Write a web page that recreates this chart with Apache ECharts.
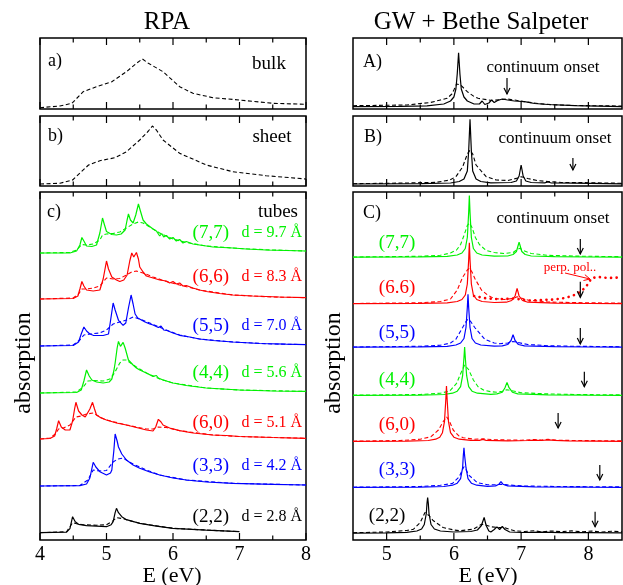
<!DOCTYPE html>
<html><head><meta charset="utf-8">
<script src="https://cdn.jsdelivr.net/npm/echarts@6/dist/echarts.min.js"></script>
<style>html,body{margin:0;padding:0;background:#fff}#c{width:623px;height:585px}</style>
</head><body><div id="c"></div>
<script>
// ---------------- DATA (E in eV, absorption in arbitrary units) ----------------
const leftTicks = [4, 5, 6, 7, 8];
const rightTicks = [5, 6, 7, 8];
const leftMinor = [4.5, 5.5, 6.5, 7.5];
const rightMinor = [5.5, 6.5, 7.5];
const tubeNames = ['(7,7)', '(6,6)', '(5,5)', '(4,4)', '(6,0)', '(3,3)', '(2,2)'];
const tubeNamesGW = ['(7,7)', '(6.6)', '(5,5)', '(4,4)', '(6,0)', '(3,3)', '(2,2)'];
const diameters = ['9.7', '8.3', '7.0', '5.6', '5.1', '4.2', '2.8'];

// RPA bulk / sheet
const bulkRPA = [[4.0,1.3],[4.3,3],[4.48,5.7],[4.65,17.3],[4.85,22.3],[5.08,27.3],[5.3,37.3],[5.45,45.7],[5.54,50],[5.63,45.7],[5.85,37.3],[6.1,22.3],[6.3,15.7],[6.6,11.3],[7.0,9],[7.5,5.7],[8.0,4.7]];
const sheetRPA = [[4.0,2],[4.3,2.7],[4.49,6],[4.73,21],[4.9,25.3],[5.13,28.3],[5.3,34.3],[5.5,46],[5.63,55],[5.69,60],[5.75,56],[5.85,46],[6.1,32.7],[6.5,21],[6.9,14.3],[7.4,10.3],[8.0,7]];

// RPA tubes: values relative to each tube's baseline
const rpaOffsets = [287, 241, 194, 147, 101, 54, 7.3];
const rpa77 = [[4.0,0],[4.45,0],[4.55,2],[4.6,8],[4.63,15.5],[4.66,12],[4.7,7],[4.78,6.5],[4.85,8],[4.9,20],[4.94,35],[4.97,28],[5.0,21.5],[5.08,18.5],[5.15,18],[5.22,19],[5.28,23],[5.31,33],[5.33,39],[5.36,33],[5.4,30],[5.44,38],[5.48,49],[5.51,42],[5.55,33],[5.6,29],[5.65,26.5],[5.7,24],[5.75,22],[5.8,17],[5.83,19.5],[5.86,16],[5.9,17.5],[5.95,14],[6.0,15.5],[6.05,12],[6.1,13.5],[6.15,10],[6.2,11.5],[6.3,9],[6.4,8],[6.5,7],[6.6,6],[6.75,5.5],[6.9,5],[7.1,4],[7.4,3],[7.7,2.5],[8.0,2]];
const rpa77d = [[4.0,0],[4.45,0.5],[4.55,3],[4.63,8.5],[4.7,8],[4.8,9],[4.9,13],[4.94,18],[5.0,19],[5.1,19.5],[5.2,21],[5.3,25],[5.4,29],[5.48,31],[5.55,30],[5.65,26],[5.8,20],[6.0,14],[6.2,10.5],[6.5,7],[7.0,4.5],[7.5,3],[8.0,2]];
const rpa66 = [[4.0,0],[4.5,0.5],[4.57,3],[4.6,10],[4.63,17.5],[4.66,13],[4.7,9],[4.8,8],[4.9,9],[4.95,20],[5.0,38],[5.03,30],[5.08,22],[5.15,19],[5.2,17.5],[5.26,19],[5.31,24],[5.35,38],[5.38,46],[5.41,42],[5.45,46.5],[5.48,40],[5.5,32],[5.55,27],[5.6,23],[5.7,21],[5.8,19],[5.9,18],[5.95,16],[6.0,17.5],[6.05,15],[6.1,16],[6.15,13],[6.2,13.5],[6.3,11],[6.4,9],[6.5,7.5],[6.7,5.5],[6.9,4],[7.2,3],[7.6,2],[8.0,1.3]];
const rpa66d = [[4.0,0],[4.5,1],[4.58,5],[4.63,10],[4.7,10],[4.8,11],[4.9,13],[5.0,21],[5.1,20],[5.2,20.5],[5.3,24],[5.38,27],[5.45,28],[5.55,26],[5.7,22],[5.9,17.5],[6.1,14],[6.4,9],[6.9,4],[7.5,2],[8.0,1.3]];
const rpa55 = [[4.0,0],[4.5,0.5],[4.58,4],[4.62,12],[4.66,19],[4.7,15],[4.75,12],[4.8,10.7],[4.95,10.5],[5.03,12],[5.06,25],[5.1,43],[5.13,36],[5.18,25.7],[5.25,20.7],[5.29,23],[5.33,38],[5.37,51],[5.4,42],[5.43,32],[5.47,28],[5.5,27],[5.58,24],[5.65,22],[5.7,21],[5.78,18.5],[5.82,20],[5.86,16],[5.9,15.7],[6.0,13],[6.1,10.7],[6.25,9],[6.4,7],[6.6,5.5],[6.9,4],[7.3,2.5],[7.7,1.8],[8.0,1.4]];
const rpa55d = [[4.0,0],[4.5,1],[4.6,6],[4.66,11],[4.75,12],[4.9,13],[5.0,16],[5.1,22],[5.2,24],[5.3,26],[5.4,29],[5.5,27],[5.65,23],[5.9,16],[6.1,11],[6.4,7],[6.9,4],[7.5,2],[8.0,1.4]];
const rpa44 = [[4.0,0],[4.55,0.5],[4.62,3],[4.66,12],[4.7,23],[4.74,17],[4.78,13],[4.85,11],[4.95,10],[5.04,11],[5.08,14],[5.11,22],[5.13,30],[5.16,45],[5.18,51.6],[5.21,46.6],[5.25,50.6],[5.28,45],[5.33,33],[5.4,28],[5.45,25],[5.5,23],[5.6,20],[5.7,16.6],[5.75,17.5],[5.78,15],[5.85,13],[6.0,10],[6.2,7.5],[6.5,5],[7.0,3],[7.5,2],[8.0,1.6]];
const rpa44d = [[4.0,0],[4.55,1],[4.65,6],[4.72,12],[4.8,12.5],[4.95,12],[5.05,14],[5.12,20],[5.2,30],[5.25,33],[5.3,33],[5.38,29],[5.45,26],[5.6,20],[5.8,14],[6.0,10],[6.5,5],[7.0,3],[8.0,1.6]];
const rpa60 = [[4.0,0],[4.15,0.5],[4.22,3],[4.25,10],[4.28,18.3],[4.32,12],[4.38,9],[4.45,9],[4.49,18],[4.52,30],[4.54,36.7],[4.58,28],[4.63,24],[4.68,22],[4.71,22.3],[4.75,30],[4.79,36.7],[4.82,30],[4.85,24],[4.92,21],[5.0,19],[5.15,16],[5.3,14],[5.45,11.5],[5.6,9],[5.7,8],[5.74,12],[5.78,19.7],[5.82,17],[5.85,14],[5.95,11],[6.1,8.3],[6.3,6],[6.6,4],[6.8,3.5],[6.82,2.5],[7.0,2.5],[7.5,1.5],[8.0,0.7]];
const rpa60d = [[4.0,0],[4.15,1],[4.23,5],[4.28,10],[4.35,11],[4.45,14],[4.54,22],[4.62,23],[4.7,25],[4.8,26],[4.9,22],[5.0,19],[5.3,14],[5.6,10],[5.7,10],[5.78,12],[5.9,11.5],[6.1,8.3],[6.6,4],[7.0,2.5],[8.0,0.7]];
const rpa33 = [[4.0,0],[4.6,0.3],[4.7,2],[4.75,8],[4.8,23.7],[4.84,19],[4.9,14.3],[5.0,11],[5.06,13],[5.08,16],[5.11,35],[5.13,52],[5.16,45],[5.18,39],[5.23,32],[5.3,26],[5.4,21],[5.5,17.7],[5.65,14],[5.8,11],[6.0,8],[6.2,6],[6.5,4],[6.9,2.7],[7.5,1.7],[8.0,1]];
const rpa33d = [[4.0,0],[4.6,0.5],[4.72,6],[4.8,16],[4.9,15],[5.0,15.5],[5.1,24],[5.17,27],[5.25,28],[5.32,25],[5.4,22],[5.6,16],[5.8,11],[6.2,6],[6.9,2.7],[8.0,1]];
const rpa22 = [[4.0,0],[4.4,0.5],[4.45,4],[4.49,16],[4.53,11],[4.58,8.4],[4.7,7],[4.85,6.5],[5.0,6],[5.07,8],[5.1,11],[5.13,20],[5.15,24.4],[5.18,20],[5.23,16],[5.3,13],[5.5,9.4],[5.75,6.5],[6.0,4.4],[6.5,2.5],[7.0,1]];
const rpa22d = [[4.0,0],[4.4,1],[4.49,10],[4.55,9],[4.65,8],[4.85,7.5],[5.0,8],[5.1,12],[5.15,15],[5.25,14],[5.3,13],[5.5,9.4],[6.0,4.4],[7.0,1]];

// GW + BSE bulk / sheet
const bulkBS = [[4.5,2.3],[5.2,2.6],[5.6,3.2],[5.85,5],[5.95,8],[6.0,12],[6.03,20],[6.05,35],[6.07,56.3],[6.09,35],[6.11,20],[6.15,12],[6.2,8],[6.3,5],[6.38,5],[6.42,8],[6.46,4.5],[6.52,6],[6.56,9],[6.6,6.5],[6.65,8.5],[6.72,10],[6.8,9],[6.9,8],[7.05,7.3],[7.2,5.5],[7.4,4.5],[7.8,3.3],[8.5,2.3]];
const bulkGW = [[4.5,3.3],[5.3,4],[5.65,6.5],[5.8,9],[5.9,10.7],[5.97,15],[6.0,19],[6.04,25],[6.06,26.3],[6.1,24],[6.2,17.3],[6.3,12.5],[6.36,10.7],[6.56,8.5],[6.7,9.5],[6.8,10],[6.9,9],[7.05,7.3],[7.25,5.5],[7.45,4.3],[7.8,3.5],[8.5,3]];
const sheetBS = [[4.5,2],[5.5,2.3],[5.95,3],[6.08,4.5],[6.15,7],[6.2,15],[6.22,35],[6.24,66.7],[6.26,35],[6.28,15],[6.33,7],[6.4,4.5],[6.55,3.2],[6.85,3.5],[6.93,5],[6.97,10],[7.0,21],[7.03,10],[7.07,5],[7.15,3.5],[7.35,3.2],[7.4,4],[7.45,3],[7.8,2.8],[8.5,2.2]];
const sheetGW = [[4.5,2.3],[5.3,3],[5.74,3.7],[5.94,6],[6.03,9.3],[6.13,19],[6.2,32],[6.24,36],[6.28,32],[6.33,21],[6.48,9.3],[6.63,6],[6.8,5.5],[6.95,8],[7.0,9.3],[7.1,7.5],[7.25,5.3],[7.4,4.5],[7.6,3.5],[8.0,3.3],[8.5,2.7]];

// GW + BSE tubes (relative to baselines)
const bsOffsets = [282.5, 236, 192.5, 144.3, 98.3, 52.3, 6.5];
const bs77 = [[4.5,0.3],[5.5,0.6],[5.9,1.2],[6.05,2.5],[6.12,4.5],[6.17,9],[6.2,20],[6.22,45],[6.23,62],[6.24,45],[6.26,20],[6.29,9],[6.34,4.5],[6.42,2.5],[6.6,1.3],[6.8,1.5],[6.88,3],[6.93,6],[6.96,13],[6.97,15.3],[6.98,13],[7.01,6],[7.06,3],[7.15,1.5],[7.5,0.8],[8.0,0.5],[8.5,0.4]];
const bs77d = [[4.5,0.5],[5.5,1.2],[5.8,2.2],[5.95,4.5],[6.04,7.5],[6.1,13],[6.15,22],[6.2,32],[6.23,34.6],[6.27,30],[6.32,20],[6.38,13],[6.48,7],[6.6,5],[6.75,4],[6.88,5],[6.94,8],[6.98,9.3],[7.03,7],[7.15,4],[7.4,2.2],[7.8,1.4],[8.5,0.8]];
const bs66 = [[4.5,0.3],[5.5,0.6],[5.9,1.2],[6.05,2.5],[6.12,4.5],[6.17,9],[6.2,20],[6.22,44],[6.23,61.3],[6.24,44],[6.26,20],[6.29,9],[6.34,4.5],[6.42,2.5],[6.6,1.5],[6.78,1.8],[6.86,3.5],[6.91,8],[6.94,15.7],[6.97,8],[7.02,3.5],[7.1,1.8],[7.5,0.8],[8.0,0.5],[8.5,0.4]];
const bs66d = [[4.5,0.5],[5.5,1.2],[5.8,2.5],[5.95,5],[6.05,14],[6.13,26.7],[6.2,34],[6.23,35.7],[6.27,32],[6.31,25.7],[6.41,14],[6.5,9],[6.59,5.7],[6.75,4.5],[6.88,5.5],[6.94,7.3],[7.0,6],[7.1,4],[7.4,2],[7.8,1.4],[8.5,0.8]];
const bs66perp = [[6.3,8],[6.45,6],[6.6,5],[6.75,5],[6.9,5.5],[7.1,3.5],[7.3,4],[7.5,4.5],[7.65,6],[7.77,8.3],[7.87,11.7],[7.96,16.7],[8.05,26],[8.15,27],[8.3,26],[8.45,26.5],[8.5,26]];
const bs55 = [[4.5,0.3],[5.5,0.6],[5.9,1.2],[6.03,2.5],[6.1,4.5],[6.15,9],[6.18,20],[6.2,40],[6.21,53.3],[6.22,40],[6.24,20],[6.27,9],[6.32,4.5],[6.4,2.5],[6.6,1.4],[6.72,1.6],[6.8,3],[6.85,7],[6.88,12.7],[6.91,7],[6.96,3],[7.05,1.6],[7.5,0.8],[8.0,0.5],[8.5,0.4]];
const bs55d = [[4.5,0.5],[5.5,1.2],[5.8,2.3],[5.95,4.5],[6.03,8.3],[6.13,20],[6.18,26],[6.21,28.3],[6.25,26],[6.31,20],[6.46,8.3],[6.6,4.5],[6.68,3.8],[6.8,4.5],[6.88,6],[6.95,5],[7.1,3],[7.4,1.8],[7.8,1.2],[8.5,0.8]];
const bs44 = [[4.5,0.3],[5.5,0.6],[5.85,1.2],[5.98,2.5],[6.05,4.5],[6.1,9],[6.13,20],[6.15,38],[6.16,48.7],[6.17,38],[6.19,20],[6.22,9],[6.27,4.5],[6.35,2.5],[6.55,1.4],[6.64,1.8],[6.72,3.5],[6.76,8],[6.79,13.3],[6.82,8],[6.87,3.5],[6.95,1.8],[7.4,0.8],[8.0,0.5],[8.5,0.4]];
const bs44d = [[4.5,0.5],[5.5,1.2],[5.8,2.5],[5.94,4.7],[6.04,12.3],[6.1,22],[6.16,30.7],[6.22,26],[6.29,15.7],[6.36,9],[6.44,5.7],[6.55,4],[6.64,3.5],[6.72,4.5],[6.79,6],[6.86,5],[7.0,3],[7.4,1.8],[7.8,1.2],[8.5,0.8]];
const bs60 = [[4.5,0.3],[5.3,0.6],[5.62,1.2],[5.73,2.5],[5.79,4.5],[5.83,9],[5.86,20],[5.88,42],[5.89,55.7],[5.9,42],[5.92,20],[5.95,9],[6.0,4.5],[6.08,2.5],[6.25,1.3],[6.38,1.3],[6.43,2.3],[6.48,1.3],[6.8,0.8],[7.1,1.2],[7.2,1.6],[7.3,1.2],[7.4,1.8],[7.5,1.3],[7.7,0.8],[8.5,0.4]];
const bs60d = [[4.5,0.5],[5.2,1.2],[5.5,2.5],[5.66,5],[5.77,11.7],[5.84,20],[5.89,25],[5.93,21],[5.99,11.7],[6.07,6],[6.14,4],[6.3,2.5],[6.44,2.8],[6.6,2],[7.0,1.5],[7.2,2.2],[7.3,1.6],[7.4,2.4],[7.55,1.5],[7.8,1.2],[8.5,0.8]];
const bs33 = [[4.5,0.3],[5.5,0.6],[5.85,1.2],[5.98,2.5],[6.05,4.5],[6.1,9],[6.13,20],[6.14,32],[6.15,40],[6.16,32],[6.18,20],[6.21,9],[6.26,4.5],[6.34,2.5],[6.5,1.4],[6.62,1.8],[6.67,3.5],[6.7,6],[6.73,3.5],[6.8,1.8],[7.2,0.9],[8.0,0.5],[8.5,0.4]];
const bs33d = [[4.5,0.5],[5.5,1.2],[5.8,2.4],[5.98,4.3],[6.08,11],[6.12,17],[6.15,21],[6.19,17],[6.22,12.7],[6.35,5],[6.5,3],[6.62,3],[6.7,3.5],[6.8,2.8],[7.0,1.8],[7.5,1.2],[8.5,0.8]];
const bs22 = [[4.5,0.3],[5.0,0.6],[5.3,1.2],[5.45,2.5],[5.52,4.5],[5.56,9],[5.59,20],[5.6,30],[5.61,36],[5.62,30],[5.63,20],[5.66,9],[5.71,4.5],[5.8,2.5],[6.0,1.5],[6.25,2],[6.35,3.5],[6.41,8],[6.45,16],[6.48,8],[6.52,2.5],[6.55,1.5],[6.6,4],[6.64,6.7],[6.68,4],[6.72,7],[6.76,4],[6.83,1.5],[7.0,1],[7.3,1.3],[7.6,0.8],[8.0,0.8],[8.5,0.6]];
const bs22d = [[4.5,0.8],[5.0,1.5],[5.3,3],[5.4,4.3],[5.5,11],[5.57,21],[5.63,18],[5.69,13],[5.84,6],[6.0,3.5],[6.09,2.7],[6.29,4.3],[6.41,9.3],[6.47,8.5],[6.55,6.7],[6.65,6],[6.75,6],[6.9,2.7],[7.05,2],[7.2,2.8],[7.3,1.6],[7.45,2.5],[7.6,1.8],[7.75,2.6],[7.9,1.7],[8.05,2.4],[8.2,1.5],[8.35,2.3],[8.5,1.6]];

// continuum onset arrows: energy, top and tip (relative to baselines)
const onsetE = [7.88, 7.88, 7.88, 7.94, 7.55, 8.17, 8.1];
const onsetTop = [18.5, 22.3, 19.5, 24, 28.7, 22.7, 21.8];
const onsetTip = [3.5, 6.7, 3.5, 9, 13.7, 7.7, 6.8];
const onsetBulk = [6.79, 31, 15];
const onsetSheet = [7.77, 28, 16];

// ---------------- CHART ----------------
const FONT = '"Liberation Serif", "Times New Roman", serif';
const GREEN = '#00f000', RED = '#ff0000', BLUE = '#0000ff', BLACK = '#000000';
const tubeColors = [GREEN, RED, BLUE, GREEN, RED, BLUE, BLACK];

const grids = [
  {left: 40, top: 38, width: 266, height: 71},
  {left: 40, top: 116, width: 266, height: 70},
  {left: 40, top: 192, width: 266, height: 348},
  {left: 353, top: 38, width: 269, height: 71},
  {left: 353, top: 116, width: 269, height: 70},
  {left: 353, top: 192, width: 269, height: 348}
].map(g => Object.assign(g, {show: true, borderColor: '#000', borderWidth: 1.5, backgroundColor: 'transparent'}));

const xAxis = [];
const yAxis = [];
grids.forEach((g, gi) => {
  const isLeft = gi < 3;
  const showLabels = (gi === 2 || gi === 5);
  xAxis.push({
    type: 'value', gridIndex: gi, min: isLeft ? 4 : 4.5, max: isLeft ? 8 : 8.5, position: 'bottom',
    axisLine: {show: false}, splitLine: {show: false}, axisTick: {show: false},
    axisLabel: showLabels ?
      {show: true, customValues: isLeft ? leftTicks : rightTicks, fontFamily: FONT, fontSize: 20, color: '#000', margin: 5} : {show: false},
    silent: true
  });
  yAxis.push({type: 'value', gridIndex: gi, min: 0, max: g.height, show: false});
});

const series = [];
function addLine(gi, data, color, kind, off) {
  const o = off || 0;
  const ls = {color, width: 1.2, type: 'solid'};
  if (kind === 'dash') { ls.type = [4, 2.5]; ls.width = 1.1; }
  if (kind === 'dot') { ls.type = [0.1, 5.5]; ls.width = 2.6; ls.cap = 'round'; }
  series.push({
    type: 'line', xAxisIndex: gi, yAxisIndex: gi,
    data: data.map(p => [p[0], p[1] + o]),
    showSymbol: false, symbol: 'none', lineStyle: ls, silent: true, z: kind === 'solid' ? 3 : 2
  });
}
addLine(0, bulkRPA, BLACK, 'dash');
addLine(1, sheetRPA, BLACK, 'dash');
const rpaS = [rpa77, rpa66, rpa55, rpa44, rpa60, rpa33, rpa22];
const rpaD = [rpa77d, rpa66d, rpa55d, rpa44d, rpa60d, rpa33d, rpa22d];
rpaS.forEach((d, i) => { addLine(2, rpaD[i], tubeColors[i], 'dash', rpaOffsets[i]); addLine(2, d, tubeColors[i], 'solid', rpaOffsets[i]); });
addLine(3, bulkGW, BLACK, 'dash'); addLine(3, bulkBS, BLACK, 'solid');
addLine(4, sheetGW, BLACK, 'dash'); addLine(4, sheetBS, BLACK, 'solid');
const bsS = [bs77, bs66, bs55, bs44, bs60, bs33, bs22];
const bsD = [bs77d, bs66d, bs55d, bs44d, bs60d, bs33d, bs22d];
bsS.forEach((d, i) => { addLine(5, bsD[i], tubeColors[i], 'dash', bsOffsets[i]); addLine(5, d, tubeColors[i], 'solid', bsOffsets[i]); });
addLine(5, bs66perp, RED, 'dot', bsOffsets[1]);

const chart = echarts.init(document.getElementById('c'), null, {renderer: 'canvas'});
chart.setOption({backgroundColor: '#fff', animation: false, grid: grids, xAxis, yAxis, series});

// ---------------- ANNOTATIONS ----------------
const G = [];
function seg(p1, p2, color, w) {
  G.push({type: 'line', z: 10, silent: true, shape: {x1: p1[0], y1: p1[1], x2: p2[0], y2: p2[1]}, style: {stroke: color || '#000', lineWidth: w || 1.2}});
}
// inward ticks on top and bottom frame of each panel, placed with the axis scales
grids.forEach((g, gi) => {
  const isLeft = gi < 3;
  const major = isLeft ? leftTicks : rightTicks;
  const minor = isLeft ? leftMinor : rightMinor;
  [[major, 7], [minor, 4.5]].forEach(([vals, len]) => {
    vals.forEach(v => {
      const pb = chart.convertToPixel({gridIndex: gi}, [v, 0]);
      const pt = chart.convertToPixel({gridIndex: gi}, [v, g.height]);
      seg([pb[0], pb[1]], [pb[0], pb[1] - len]);
      seg([pt[0], pt[1]], [pt[0], pt[1] + len]);
    });
  });
});

function txt(x, y, text, size, color, align, rot) {
  return {type: 'text', x, y, rotation: rot || 0, z: 10,
    style: {text, font: size + 'px ' + FONT, fill: color || '#000', align: align || 'center', verticalAlign: 'middle'}};
}
G.push(txt(167, 22, 'RPA', 25));
G.push(txt(481, 22, 'GW + Bethe Salpeter', 25));
G.push(txt(24, 363, 'absorption', 24, '#000', 'center', Math.PI / 2));
G.push(txt(334, 363, 'absorption', 24, '#000', 'center', Math.PI / 2));
G.push(txt(172, 576, 'E (eV)', 22));
G.push(txt(488, 576, 'E (eV)', 22));
G.push(txt(48, 61, 'a)', 18, '#000', 'left'));
G.push(txt(48, 136, 'b)', 18, '#000', 'left'));
G.push(txt(47, 212, 'c)', 18, '#000', 'left'));
G.push(txt(363, 62, 'A)', 18, '#000', 'left'));
G.push(txt(364, 137, 'B)', 18, '#000', 'left'));
G.push(txt(363, 213, 'C)', 18, '#000', 'left'));
G.push(txt(269, 64, 'bulk', 19));
G.push(txt(272, 137, 'sheet', 19));
G.push(txt(298, 212, 'tubes', 19, '#000', 'right'));
G.push(txt(543, 68, 'continuum onset', 17));
G.push(txt(555, 139, 'continuum onset', 17));
G.push(txt(553, 219, 'continuum onset', 17));
const leftLabelY = [233, 277, 326, 373, 423, 466, 517];
const rightLabelY = [243, 288, 333, 380, 425, 470, 516];
tubeNames.forEach((n, i) => {
  G.push(txt(229, leftLabelY[i], n, 19, tubeColors[i], 'right'));
  G.push(txt(302, leftLabelY[i], 'd = ' + diameters[i] + ' Å', 16, tubeColors[i], 'right'));
  G.push(txt(i === 6 ? 387 : 397, rightLabelY[i], tubeNamesGW[i], 19, tubeColors[i], 'center'));
});
G.push(txt(570, 268, 'perp. pol..', 13, RED));

function arrow(p1, p2, color, w) {
  const dx = p2[0] - p1[0], dy = p2[1] - p1[1];
  const L = Math.hypot(dx, dy), ux = dx / L, uy = dy / L;
  const hl = 6, hw = 3;
  const a = [p2[0] - ux * hl - uy * hw, p2[1] - uy * hl + ux * hw];
  const b = [p2[0] - ux * hl + uy * hw, p2[1] - uy * hl - ux * hw];
  G.push({type: 'polyline', z: 10, shape: {points: [p1, p2]}, style: {stroke: color, lineWidth: w || 1.2, fill: null}});
  G.push({type: 'polyline', z: 10, shape: {points: [a, p2, b]}, style: {stroke: color, lineWidth: w || 1.2, fill: null}});
}
onsetE.forEach((e, i) => {
  const p1 = chart.convertToPixel({gridIndex: 5}, [e, bsOffsets[i] + onsetTop[i]]);
  const p2 = chart.convertToPixel({gridIndex: 5}, [e, bsOffsets[i] + onsetTip[i]]);
  arrow(p1, p2, '#000');
});
arrow(chart.convertToPixel({gridIndex: 3}, [onsetBulk[0], onsetBulk[1]]), chart.convertToPixel({gridIndex: 3}, [onsetBulk[0], onsetBulk[2]]), '#000');
arrow(chart.convertToPixel({gridIndex: 4}, [onsetSheet[0], onsetSheet[1]]), chart.convertToPixel({gridIndex: 4}, [onsetSheet[0], onsetSheet[2]]), '#000');
arrow([565, 273], [590, 279], RED, 1);

chart.setOption({graphic: G});
</script></body></html>
